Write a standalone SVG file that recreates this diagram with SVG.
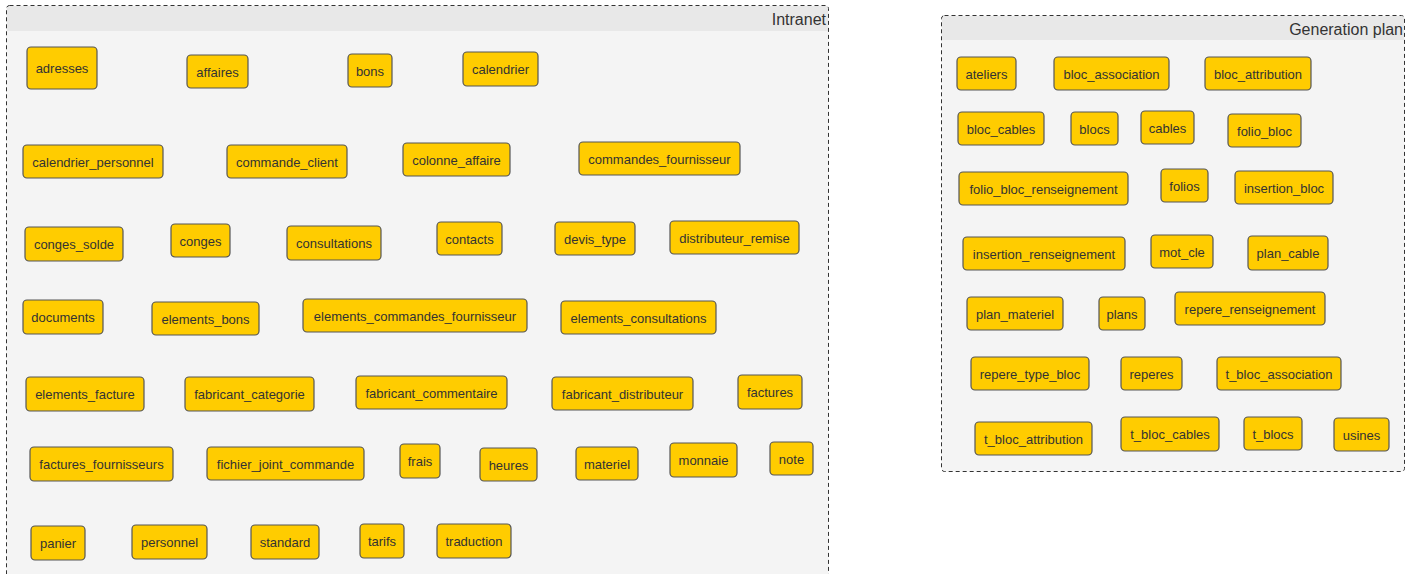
<svg xmlns="http://www.w3.org/2000/svg" width="1413" height="574" viewBox="0 0 1413 574">
<style>
.cb{fill:#f4f4f4;stroke:none}
.ch{fill:#e8e8e8;stroke:none}
.cf{fill:none;stroke:#333;stroke-width:1;stroke-dasharray:4 3}
.ct{font-family:"Liberation Sans",Arial,sans-serif;font-size:16px;fill:#333;text-anchor:end}
.n rect{fill:#ffcc00;stroke:#555;stroke-width:1.2}
.n text{font-family:"Liberation Sans",Arial,sans-serif;font-size:13px;fill:#333;text-anchor:middle}
</style>
<rect width="1413" height="574" fill="#ffffff"/>
<g id="container-intranet">
<rect class="cb" x="6.5" y="5.5" width="822" height="600" rx="3"/>
<rect class="ch" x="7" y="6" width="821" height="25"/>
<rect class="cf" x="6.5" y="5.5" width="822" height="600" rx="3"/>
<text class="ct" x="826" y="25">Intranet</text>
</g>
<g id="container-generation-plan">
<rect class="cb" x="941.5" y="15.5" width="463" height="456" rx="3"/>
<rect class="ch" x="942" y="16" width="462" height="24"/>
<rect class="cf" x="941.5" y="15.5" width="463" height="456" rx="3"/>
<text class="ct" x="1403" y="35">Generation plan</text>
</g>
<g id="connectors"></g>
<g id="intranet-nodes">
<g id="adresses" class="n"><rect x="27" y="47" width="70" height="42" rx="4"/><text x="62" y="73">adresses</text></g>
<g id="affaires" class="n"><rect x="187" y="55" width="61" height="33" rx="4"/><text x="217.5" y="76.5">affaires</text></g>
<g id="bons" class="n"><rect x="348" y="54" width="44" height="33" rx="4"/><text x="370" y="75.5">bons</text></g>
<g id="calendrier" class="n"><rect x="463" y="52" width="75" height="34" rx="4"/><text x="500.5" y="74">calendrier</text></g>
<g id="calendrier_personnel" class="n"><rect x="23" y="145" width="140" height="33" rx="4"/><text x="93" y="166.5">calendrier_personnel</text></g>
<g id="commande_client" class="n"><rect x="227" y="145" width="120" height="33" rx="4"/><text x="287" y="166.5">commande_client</text></g>
<g id="colonne_affaire" class="n"><rect x="403" y="143" width="107" height="33" rx="4"/><text x="456.5" y="164.5">colonne_affaire</text></g>
<g id="commandes_fournisseur" class="n"><rect x="579" y="142" width="161" height="33" rx="4"/><text x="659.5" y="163.5">commandes_fournisseur</text></g>
<g id="conges_solde" class="n"><rect x="25" y="227" width="98" height="34" rx="4"/><text x="74" y="249">conges_solde</text></g>
<g id="conges" class="n"><rect x="171" y="224" width="59" height="33" rx="4"/><text x="200.5" y="245.5">conges</text></g>
<g id="consultations" class="n"><rect x="287" y="226" width="94" height="34" rx="4"/><text x="334" y="248">consultations</text></g>
<g id="contacts" class="n"><rect x="437" y="222" width="65" height="33" rx="4"/><text x="469.5" y="243.5">contacts</text></g>
<g id="devis_type" class="n"><rect x="555" y="222" width="80" height="33" rx="4"/><text x="595" y="243.5">devis_type</text></g>
<g id="distributeur_remise" class="n"><rect x="670" y="221" width="129" height="33" rx="4"/><text x="734.5" y="242.5">distributeur_remise</text></g>
<g id="documents" class="n"><rect x="23" y="300" width="80" height="34" rx="4"/><text x="63" y="322">documents</text></g>
<g id="elements_bons" class="n"><rect x="152" y="302" width="107" height="33" rx="4"/><text x="205.5" y="323.5">elements_bons</text></g>
<g id="elements_commandes_fournisseur" class="n"><rect x="303" y="299" width="224" height="33" rx="4"/><text x="415" y="320.5">elements_commandes_fournisseur</text></g>
<g id="elements_consultations" class="n"><rect x="561" y="301" width="155" height="33" rx="4"/><text x="638.5" y="322.5">elements_consultations</text></g>
<g id="elements_facture" class="n"><rect x="26" y="377" width="118" height="34" rx="4"/><text x="85" y="399">elements_facture</text></g>
<g id="fabricant_categorie" class="n"><rect x="185" y="377" width="129" height="34" rx="4"/><text x="249.5" y="399">fabricant_categorie</text></g>
<g id="fabricant_commentaire" class="n"><rect x="356" y="376" width="151" height="33" rx="4"/><text x="431.5" y="397.5">fabricant_commentaire</text></g>
<g id="fabricant_distributeur" class="n"><rect x="552" y="377" width="141" height="33" rx="4"/><text x="622.5" y="398.5">fabricant_distributeur</text></g>
<g id="factures" class="n"><rect x="738" y="375" width="64" height="34" rx="4"/><text x="770" y="397">factures</text></g>
<g id="factures_fournisseurs" class="n"><rect x="30" y="447" width="143" height="34" rx="4"/><text x="101.5" y="469">factures_fournisseurs</text></g>
<g id="fichier_joint_commande" class="n"><rect x="207" y="447" width="157" height="33" rx="4"/><text x="285.5" y="468.5">fichier_joint_commande</text></g>
<g id="frais" class="n"><rect x="400" y="444" width="40" height="34" rx="4"/><text x="420" y="466">frais</text></g>
<g id="heures" class="n"><rect x="480" y="448" width="57" height="33" rx="4"/><text x="508.5" y="469.5">heures</text></g>
<g id="materiel" class="n"><rect x="576" y="447" width="62" height="33" rx="4"/><text x="607" y="468.5">materiel</text></g>
<g id="monnaie" class="n"><rect x="670" y="443" width="67" height="34" rx="4"/><text x="703.5" y="465">monnaie</text></g>
<g id="note" class="n"><rect x="770" y="442" width="43" height="33" rx="4"/><text x="791.5" y="463.5">note</text></g>
<g id="panier" class="n"><rect x="31" y="526" width="54" height="34" rx="4"/><text x="58" y="548">panier</text></g>
<g id="personnel" class="n"><rect x="132" y="525" width="75" height="34" rx="4"/><text x="169.5" y="547">personnel</text></g>
<g id="standard" class="n"><rect x="251" y="525" width="68" height="34" rx="4"/><text x="285" y="547">standard</text></g>
<g id="tarifs" class="n"><rect x="360" y="524" width="44" height="34" rx="4"/><text x="382" y="546">tarifs</text></g>
<g id="traduction" class="n"><rect x="437" y="524" width="74" height="34" rx="4"/><text x="474" y="546">traduction</text></g>
</g>
<g id="generation-plan-nodes">
<g id="ateliers" class="n"><rect x="957" y="57" width="59" height="33" rx="4"/><text x="986.5" y="78.5">ateliers</text></g>
<g id="bloc_association" class="n"><rect x="1054" y="57" width="115" height="33" rx="4"/><text x="1111.5" y="78.5">bloc_association</text></g>
<g id="bloc_attribution" class="n"><rect x="1205" y="57" width="106" height="33" rx="4"/><text x="1258" y="78.5">bloc_attribution</text></g>
<g id="bloc_cables" class="n"><rect x="958" y="112" width="86" height="33" rx="4"/><text x="1001" y="133.5">bloc_cables</text></g>
<g id="blocs" class="n"><rect x="1071" y="112" width="47" height="33" rx="4"/><text x="1094.5" y="133.5">blocs</text></g>
<g id="cables" class="n"><rect x="1141" y="111" width="53" height="33" rx="4"/><text x="1167.5" y="132.5">cables</text></g>
<g id="folio_bloc" class="n"><rect x="1228" y="114" width="73" height="33" rx="4"/><text x="1264.5" y="135.5">folio_bloc</text></g>
<g id="folio_bloc_renseignement" class="n"><rect x="959" y="172" width="169" height="33" rx="4"/><text x="1043.5" y="193.5">folio_bloc_renseignement</text></g>
<g id="folios" class="n"><rect x="1161" y="169" width="47" height="33" rx="4"/><text x="1184.5" y="190.5">folios</text></g>
<g id="insertion_bloc" class="n"><rect x="1235" y="171" width="98" height="33" rx="4"/><text x="1284" y="192.5">insertion_bloc</text></g>
<g id="insertion_renseignement" class="n"><rect x="963" y="237" width="162" height="33" rx="4"/><text x="1044" y="258.5">insertion_renseignement</text></g>
<g id="mot_cle" class="n"><rect x="1151" y="235" width="62" height="33" rx="4"/><text x="1182" y="256.5">mot_cle</text></g>
<g id="plan_cable" class="n"><rect x="1248" y="236" width="80" height="34" rx="4"/><text x="1288" y="258">plan_cable</text></g>
<g id="plan_materiel" class="n"><rect x="967" y="297" width="96" height="33" rx="4"/><text x="1015" y="318.5">plan_materiel</text></g>
<g id="plans" class="n"><rect x="1099" y="297" width="46" height="33" rx="4"/><text x="1122" y="318.5">plans</text></g>
<g id="repere_renseignement" class="n"><rect x="1175" y="292" width="150" height="33" rx="4"/><text x="1250" y="313.5">repere_renseignement</text></g>
<g id="repere_type_bloc" class="n"><rect x="971" y="357" width="118" height="33" rx="4"/><text x="1030" y="378.5">repere_type_bloc</text></g>
<g id="reperes" class="n"><rect x="1121" y="357" width="61" height="33" rx="4"/><text x="1151.5" y="378.5">reperes</text></g>
<g id="t_bloc_association" class="n"><rect x="1217" y="357" width="124" height="33" rx="4"/><text x="1279" y="378.5">t_bloc_association</text></g>
<g id="t_bloc_attribution" class="n"><rect x="975" y="422" width="117" height="33" rx="4"/><text x="1033.5" y="443.5">t_bloc_attribution</text></g>
<g id="t_bloc_cables" class="n"><rect x="1121" y="417" width="98" height="34" rx="4"/><text x="1170" y="439">t_bloc_cables</text></g>
<g id="t_blocs" class="n"><rect x="1244" y="417" width="58" height="33" rx="4"/><text x="1273" y="438.5">t_blocs</text></g>
<g id="usines" class="n"><rect x="1334" y="418" width="55" height="33" rx="4"/><text x="1361.5" y="439.5">usines</text></g>
</g>
</svg>
